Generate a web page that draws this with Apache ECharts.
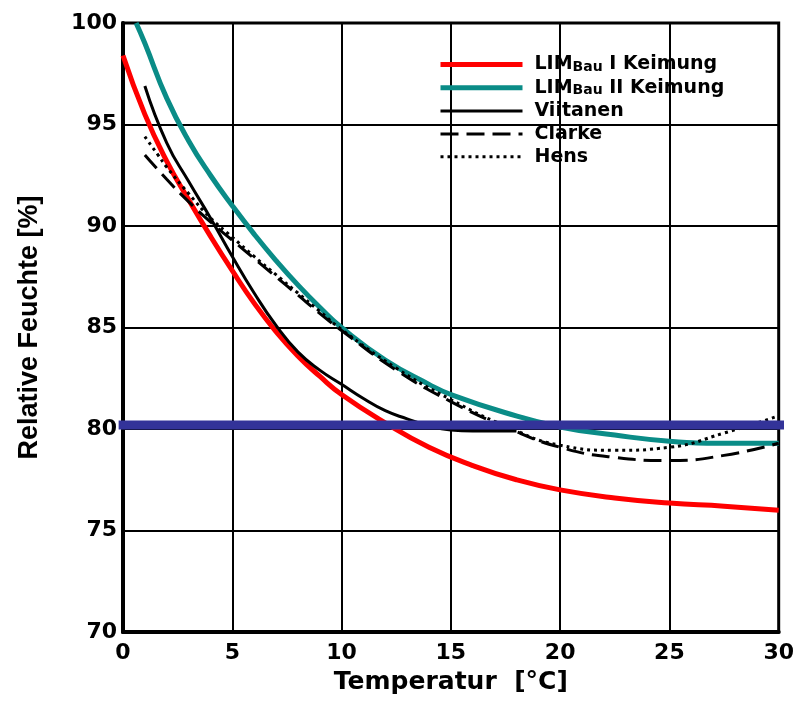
<!DOCTYPE html>
<html>
<head>
<meta charset="utf-8">
<script src="https://cdn.jsdelivr.net/npm/echarts@6/dist/echarts.min.js"></script>
<style>
html,body{margin:0;padding:0;background:#fff;}
#chart{width:797px;height:707px;}
</style>
</head>
<body>
<div id="chart"></div>
<script>
const seriesNames = ['LIM_Bau I Keimung', 'LIM_Bau II Keimung', 'Viitanen', 'Clarke', 'Hens'];

const redX = [0, 1, 2, 3, 4, 5, 6, 7, 8, 9, 10, 12, 14, 16, 18, 20, 22.5, 25, 27.5, 30];
const redY = [98.4, 95.5, 93.2, 91.3, 89.5, 87.8, 86.2, 84.8, 83.6, 82.6, 81.7, 80.3, 79.1, 78.2, 77.5, 77.0, 76.6, 76.35, 76.2, 76.0];

const tealX = [0.6, 1, 2, 3, 4, 5, 6, 7, 8, 9, 10, 12, 14, 15, 17.5, 20, 22.5, 25, 27.5, 30];
const tealY = [100, 99.0, 96.3, 94.2, 92.5, 91.0, 89.6, 88.3, 87.1, 86.0, 85.0, 83.4, 82.2, 81.7, 80.8, 80.1, 79.7, 79.4, 79.3, 79.3];

const viitX = [1, 2, 3, 4, 5, 6, 7, 8, 9, 10, 11, 12, 13, 14, 15, 16, 17, 18];
const viitY = [96.9, 94.1, 92.2, 90.4, 88.5, 86.7, 85.1, 83.8, 82.9, 82.2, 81.5, 80.9, 80.5, 80.15, 79.95, 79.9, 79.9, 79.9];

const clarkeX = [1, 2, 3, 4, 5, 6, 7, 8, 9, 10, 12.5, 15, 17.5, 20, 22.5, 25, 27.5, 30];
const clarkeY = [93.5, 92.3, 91.2, 90.2, 89.3, 88.4, 87.5, 86.6, 85.7, 84.85, 82.9, 81.35, 80.1, 79.1, 78.6, 78.45, 78.7, 79.3];

const hensX = [1, 1.6, 2, 3, 4, 5, 6, 7, 8, 9, 10, 12.5, 15, 17.5, 20, 22.5, 25, 27.5, 30];
const hensY = [94.4, 93.5, 92.9, 91.6, 90.4, 89.45, 88.5, 87.6, 86.7, 85.8, 84.9, 83.0, 81.45, 80.15, 79.2, 78.95, 79.1, 79.8, 80.65];

const limitX = [-0.2, 30.8];
const limitY = [80.2, 80.2];

function pairs(xs, ys) { return xs.map((x, i) => [x, ys[i]]); }

const chart = echarts.init(document.getElementById('chart'));
const boldFont = 'DejaVu Sans';
chart.setOption({
  animation: false,
  backgroundColor: '#fff',
  grid: { left: 123, right: 16, top: 23, bottom: 75, show: true, borderColor: '#000', borderWidth: 3 },
  legend: {
    orient: 'vertical', left: 438, top: 55, padding: 0,
    itemWidth: 82, itemHeight: 10, itemGap: 3.8,
    data: seriesNames,
    itemStyle: { opacity: 0 },
    lineStyle: { width: 'inherit' },
    formatter: function (name) {
      if (name.indexOf('LIM_Bau') === 0) {
        return '{p|LIM}{s|Bau}{t|' + name.substring(7) + '}';
      }
      return '{p|' + name + '}';
    },
    textStyle: {
      rich: {
        p: { fontFamily: boldFont, fontWeight: 'bold', fontSize: 19, lineHeight: 20, color: '#000', padding: [0, 0, 0, 7] },
        t: { fontFamily: boldFont, fontWeight: 'bold', fontSize: 19, lineHeight: 20, color: '#000' },
        s: { fontFamily: boldFont, fontWeight: 'bold', fontSize: 14, lineHeight: 10, verticalAlign: 'bottom', color: '#000' }
      }
    }
  },
  xAxis: {
    type: 'value', min: 0, max: 30, interval: 5,
    name: 'Temperatur  [°C]', nameLocation: 'middle', nameGap: 38,
    nameTextStyle: { fontFamily: boldFont, fontWeight: 'bold', fontSize: 25, color: '#000' },
    axisLine: { lineStyle: { color: '#000', width: 4 } },
    axisTick: { show: false },
    axisLabel: { fontFamily: boldFont, fontWeight: 'bold', fontSize: 22, color: '#000', margin: 10 },
    splitLine: { show: true, lineStyle: { color: '#000', width: 2 } }
  },
  yAxis: {
    type: 'value', min: 70, max: 100, interval: 5,
    name: 'Relative Feuchte [%]', nameLocation: 'middle', nameGap: 80,
    nameTextStyle: { fontFamily: 'Liberation Sans', fontWeight: 'bold', fontSize: 27, color: '#000' },
    axisLine: { show: true, lineStyle: { color: '#000', width: 4 } },
    axisTick: { show: false },
    axisLabel: { fontFamily: boldFont, fontWeight: 'bold', fontSize: 22, color: '#000', margin: 6 },
    splitLine: { show: true, lineStyle: { color: '#000', width: 2 } }
  },
  series: [
    { name: seriesNames[0], type: 'line', smooth: true, showSymbol: false, symbol: 'none',
      data: pairs(redX, redY), lineStyle: { color: '#ff0000', width: 5 }, itemStyle: { color: '#ff0000' } },
    { name: seriesNames[1], type: 'line', smooth: true, showSymbol: false, symbol: 'none',
      data: pairs(tealX, tealY), lineStyle: { color: '#0a8c87', width: 5 }, itemStyle: { color: '#0a8c87' } },
    { name: seriesNames[2], type: 'line', smooth: true, showSymbol: false, symbol: 'none',
      data: pairs(viitX, viitY), lineStyle: { color: '#000', width: 3 }, itemStyle: { color: '#000' } },
    { name: seriesNames[3], type: 'line', smooth: true, showSymbol: false, symbol: 'none',
      data: pairs(clarkeX, clarkeY), lineStyle: { color: '#000', width: 3, type: [18, 8] }, itemStyle: { color: '#000' } },
    { name: seriesNames[4], type: 'line', smooth: true, showSymbol: false, symbol: 'none',
      data: pairs(hensX, hensY), lineStyle: { color: '#000', width: 3, type: [3, 4] }, itemStyle: { color: '#000' } },
    { name: 'limit', type: 'line', showSymbol: false, symbol: 'none', clip: false, silent: true, z: 5,
      data: pairs(limitX, limitY), lineStyle: { color: '#333399', width: 9 }, itemStyle: { color: '#333399' } }
  ]
});
</script>
</body>
</html>
